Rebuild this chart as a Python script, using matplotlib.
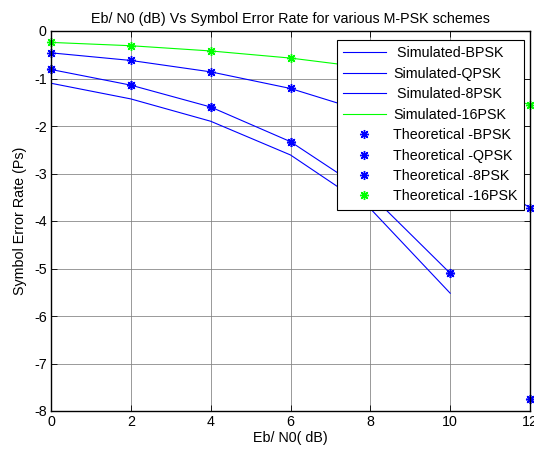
import numpy as np
import matplotlib
matplotlib.use("Agg")
import matplotlib.pyplot as plt

plt.rcParams["font.family"] = ["Liberation Sans", "DejaVu Sans"]
plt.rcParams["axes.unicode_minus"] = False

# log10 of symbol error rate
ebn0_sim = [0, 2, 4, 6, 8, 10]
ebn0_sim_full = [0, 2, 4, 6, 8, 10, 12]
ebn0_theory = [0, 2, 4, 6, 8, 10, 12]

sim_bpsk = [-1.10, -1.43, -1.90, -2.61, -3.74, -5.52]
sim_qpsk = [-0.81, -1.14, -1.60, -2.33, -3.44, -5.10]
sim_8psk = [-0.46, -0.62, -0.86, -1.21, -1.73, -2.52, -3.73]
sim_16psk = [-0.24, -0.31, -0.42, -0.57, -0.78, -1.09, -1.55]

th_bpsk = [-0.81, -1.14, -1.60, -2.33, -3.42, -5.10, -7.74]
th_qpsk = [-0.81, -1.14, -1.60, -2.33, -3.42, -5.10, -7.74]
th_8psk = [-0.46, -0.62, -0.86, -1.21, -1.73, -2.52, -3.73]
th_16psk = [-0.24, -0.31, -0.42, -0.57, -0.78, -1.09, -1.55]

labels = [" Simulated-BPSK", "Simulated-QPSK", " Simulated-8PSK", "Simulated-16PSK",
          "Theoretical -BPSK", "Theoretical -QPSK", "Theoretical -8PSK", "Theoretical -16PSK"]

BLUE = (0, 0, 1)
GREEN = (0, 1, 0)
star = (8, 2, 0)
FS = 10.3

fig = plt.figure(figsize=(5.34, 4.5), dpi=100)
ax = fig.add_axes([51 / 534, 1 - 411 / 450, (530 - 51) / 534, (411 - 31) / 450])

ax.plot(ebn0_sim, sim_bpsk, color=BLUE, lw=0.8, label=labels[0])
ax.plot(ebn0_sim, sim_qpsk, color=BLUE, lw=0.8, label=labels[1])
ax.plot(ebn0_sim_full, sim_8psk, color=BLUE, lw=0.8, label=labels[2])
ax.plot(ebn0_sim_full, sim_16psk, color=GREEN, lw=0.8, label=labels[3])

for ys, c, lab in [(th_bpsk, BLUE, labels[4]), (th_qpsk, BLUE, labels[5]),
                   (th_8psk, BLUE, labels[6]), (th_16psk, GREEN, labels[7])]:
    ax.plot(ebn0_theory, ys, linestyle="none", marker=star, ms=6.5, mew=1.0,
            color=c, label=lab, clip_on=False)

ax.set_xlim(0, 12)
ax.set_ylim(-8, 0)
ax.set_xticks(np.arange(0, 13, 2))
ax.set_yticks(np.arange(-8, 1, 1))
ax.tick_params(direction="in", top=True, right=True, labelsize=FS, length=4, width=0.6, pad=3)
ax.grid(True, color="0.5", linestyle="-", lw=0.7, alpha=0.8)
for s in ax.spines.values():
    s.set_linewidth(1.0)

ax.set_title("Eb/ N0 (dB) Vs Symbol Error Rate for various M-PSK schemes", fontsize=FS, pad=6)
ax.set_xlabel("Eb/ N0( dB)", fontsize=FS, labelpad=1)
ax.set_ylabel("Symbol Error Rate (Ps)", fontsize=FS, labelpad=5)

leg = ax.legend(loc="upper right", bbox_to_anchor=(524 / 534, 1 - 40 / 450),
                bbox_transform=fig.transFigure, borderaxespad=0, fontsize=FS,
                numpoints=1, handlelength=3.0, handletextpad=0.5,
                labelspacing=0.45, borderpad=0.45,
                fancybox=False, framealpha=1, edgecolor="k")
leg.get_frame().set_linewidth(0.8)

fig.savefig("out.png", dpi=100, facecolor="white")
